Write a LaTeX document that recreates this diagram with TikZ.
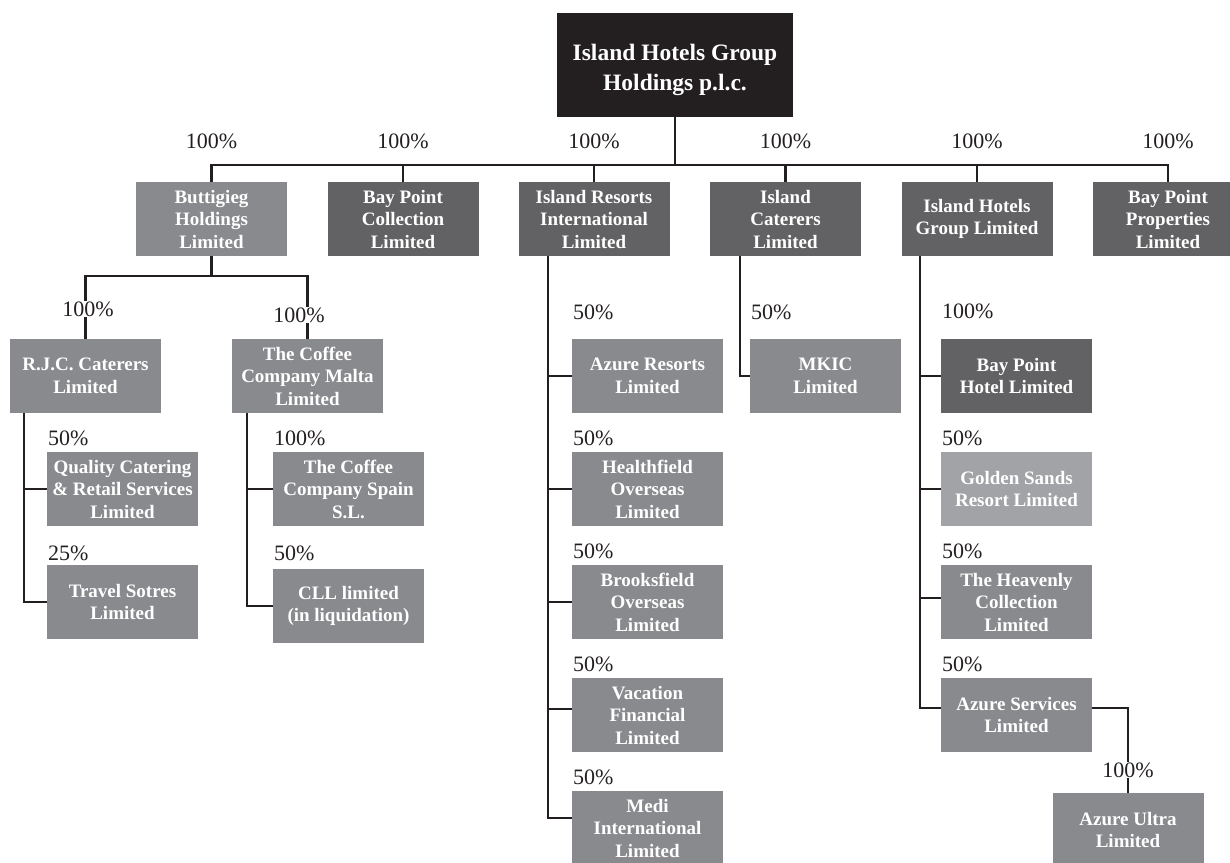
\documentclass[tikz,border=0pt]{standalone}
\usepackage{fontspec}
\setmainfont{Liberation Serif}
\definecolor{boxlight}{HTML}{898A8D}
\definecolor{boxdark}{HTML}{626264}
\definecolor{boxgold}{HTML}{A2A3A6}
\definecolor{topbox}{HTML}{231F20}
\definecolor{linec}{HTML}{231F20}
\begin{document}
\begin{tikzpicture}[x=1pt,y=-1pt,
  box/.style={rectangle, minimum width=151pt, minimum height=74pt, inner sep=0pt, align=center, text=white, font=\fontsize{19}{22.5}\selectfont\bfseries},
  light/.style={box, fill=boxlight},
  dark/.style={box, fill=boxdark},
  gold/.style={box, fill=boxgold},
  topnode/.style={rectangle, minimum width=236pt, minimum height=104pt, inner sep=0pt, fill=topbox},
  toptext/.style={inner sep=0pt, align=center, text=white, font=\fontsize{23.5}{30}\selectfont\bfseries},
  pct/.style={font=\fontsize{22}{26}\selectfont, text=linec, inner sep=1pt},
  link/.style={draw=linec, line width=2.8pt}]
\useasboundingbox (0,0) rectangle (1230,862);
\clip (0,0) rectangle (1230,862);

% top
\node[topnode] (top) at (675,65) {};
\node[toptext] (toptxt) at (675,70) {Island Hotels Group\\Holdings p.l.c.};
\coordinate (barY) at (0,165);

% level 2
\node[light] (bh)  at (211.5,219) {Buttigieg\\Holdings\\Limited};
\node[dark]  (bpc) at (403,219) {Bay Point\\Collection\\Limited};
\node[dark]  (iri) at (594,219) {Island Resorts\\International\\Limited};
\node[dark]  (ic)  at (785.5,219) {Island\\Caterers\\Limited};
\node[dark]  (ihg) at (977,219) {Island Hotels\\Group Limited};
\node[dark]  (bpp) at (1168,219) {Bay Point\\Properties\\Limited};

% Buttigieg subtree
\node[light] (rjc) at (85.5,376) {R.J.C. Caterers\\Limited};
\node[light] (ccm) at (307.5,376) {The Coffee\\Company Malta\\Limited};
\node[light] (qcr) at (122.5,489) {Quality Catering\\\& Retail Services\\Limited};
\node[light] (tsl) at (122.5,602) {Travel Sotres\\Limited};
\node[light] (ccs) at (348.5,489) {The Coffee\\Company Spain\\S.L.};
\node[light] (cll) at (348.5,606) {CLL limited\\(in liquidation)};

% Island Resorts subtree
\node[light] (ar)   at (647.5,376) {Azure Resorts\\Limited};
\node[light] (hf)   at (647.5,489) {Healthfield\\Overseas\\Limited};
\node[light] (bf)   at (647.5,602) {Brooksfield\\Overseas\\Limited};
\node[light] (vf)   at (647.5,715) {Vacation\\Financial\\Limited};
\node[light] (medi) at (647.5,828) {Medi\\International\\Limited};

% Island Caterers subtree
\node[light] (mkic) at (825.5,376) {MKIC\\Limited};

% Island Hotels subtree
\node[dark]  (bph) at (1016.5,376) {Bay Point\\Hotel Limited};
\node[gold]  (gs)  at (1016.5,489) {Golden Sands\\Resort Limited};
\node[light] (hc)  at (1016.5,602) {The Heavenly\\Collection\\Limited};
\node[light] (as)  at (1016.5,715) {Azure Services\\Limited};
\node[light] (au)  at (1128,830) {Azure Ultra\\Limited};

% connectors level 1
\draw[link] (top.south) -- (top.south |- barY);
\draw[link] (bh.north) -- (bh.north |- barY) -- (bpp.north |- barY) -- (bpp.north);
\draw[link] (bpc.north |- barY) -- (bpc.north);
\draw[link] (iri.north |- barY) -- (iri.north);
\draw[link] (ic.north |- barY) -- (ic.north);
\draw[link] (ihg.north |- barY) -- (ihg.north);

% Buttigieg connectors
\coordinate (bhY) at (0,276);
\draw[link] (bh.south) -- (bh.south |- bhY);
\draw[link] (rjc.north) -- (rjc.north |- bhY) -- (ccm.north |- bhY) -- (ccm.north);
\coordinate (rjcT) at (24,413);
\draw[link] (rjcT) |- (qcr.west);
\draw[link] (rjcT) |- (tsl.west);
\coordinate (ccmT) at (247,413);
\draw[link] (ccmT) |- (ccs.west);
\draw[link] (ccmT) |- (cll.west);

% Island Resorts connectors
\coordinate (iriT) at (548,256);
\draw[link] (iriT) |- (ar.west);
\draw[link] (iriT) |- (hf.west);
\draw[link] (iriT) |- (bf.west);
\draw[link] (iriT) |- ([yshift=6pt]vf.west);
\draw[link] (iriT) |- ([yshift=10pt]medi.west);

% Island Caterers connector
\coordinate (icT) at (740,256);
\draw[link] (icT) |- (mkic.west);

% Island Hotels connectors
\coordinate (ihgT) at (920,256);
\draw[link] (ihgT) |- (bph.west);
\draw[link] (ihgT) |- (gs.west);
\draw[link] (ihgT) |- ([yshift=4pt]hc.west);
\draw[link] (ihgT) |- ([yshift=7pt]as.west);
\draw[link] ([yshift=7pt]as.east) -| (au.north);

% percentage labels
\node[pct] (p1) at (211.5,141) {100\%};
\node[pct] (p2) at (403,141) {100\%};
\node[pct] (p3) at (594,141) {100\%};
\node[pct] (p4) at (785.5,141) {100\%};
\node[pct] (p5) at (977,141) {100\%};
\node[pct] (p6) at (1168,141) {100\%};

\node[pct, fill=white] (prjc) at (88,309) {100\%};
\node[pct, fill=white] (pccm) at (299,315) {100\%};
\node[pct, anchor=west] (pqcr) at (47,438) {50\%};
\node[pct, anchor=west] (ptsl) at (47,553) {25\%};
\node[pct, anchor=west] (pccs) at (273,438) {100\%};
\node[pct, anchor=west] (pcll) at (273,553) {50\%};

\node[pct, anchor=west] (par)   at (572,312) {50\%};
\node[pct, anchor=west] (phf)   at (572,438) {50\%};
\node[pct, anchor=west] (pbf)   at (572,551) {50\%};
\node[pct, anchor=west] (pvf)   at (572,664) {50\%};
\node[pct, anchor=west] (pmedi) at (572,777) {50\%};

\node[pct, anchor=west] (pmkic) at (750,312) {50\%};

\node[pct, anchor=west] (pbph) at (941,311) {100\%};
\node[pct, anchor=west] (pgs)  at (941,438) {50\%};
\node[pct, anchor=west] (phc)  at (941,551) {50\%};
\node[pct, anchor=west] (pas)  at (941,664) {50\%};
\node[pct, fill=white] (pau) at (1128,770) {100\%};
\end{tikzpicture}
\end{document}
